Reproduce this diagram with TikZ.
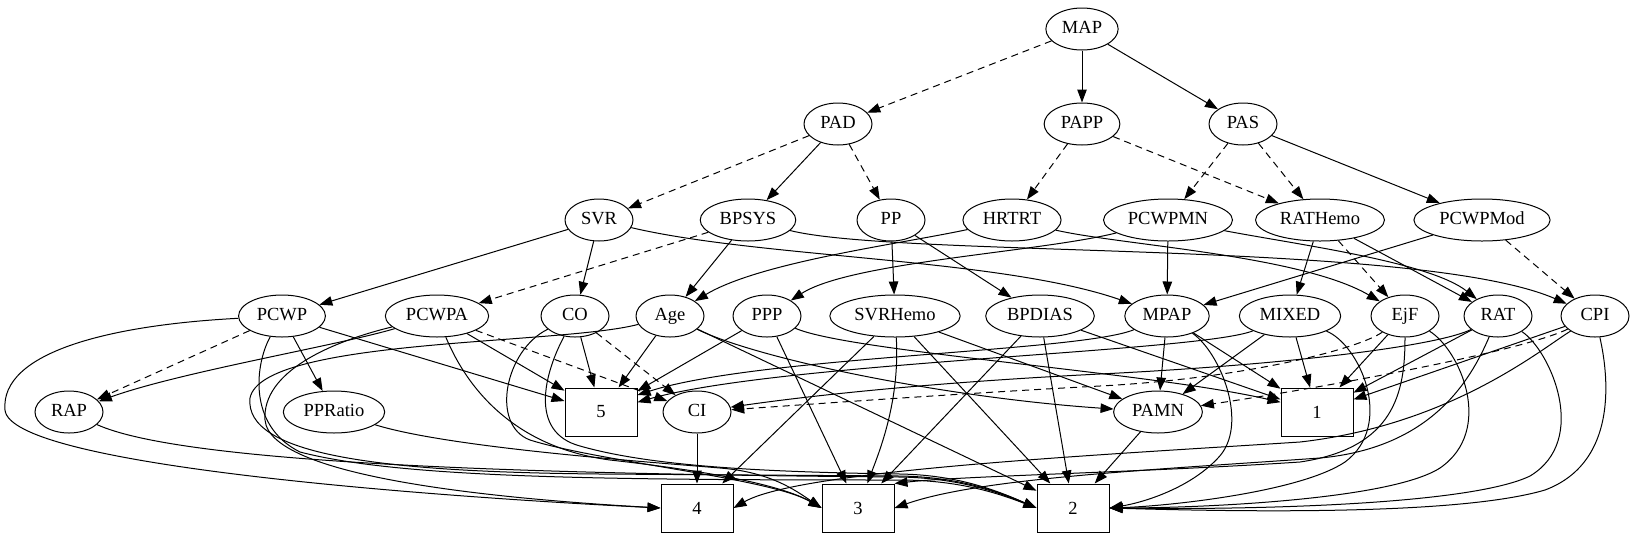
\documentclass[tikz,border=0pt]{standalone}
\usepackage{fontspec}
\setmainfont{Liberation Serif}
\usetikzlibrary{arrows.meta,shapes.geometric}
\tikzset{
  var/.style={ellipse, draw, line width=1pt, minimum width=68pt, minimum height=42pt,
    inner xsep=5.5pt, inner ysep=0pt, text height=12.5pt, text depth=3.5pt,
    font=\fontsize{18.5pt}{20pt}\selectfont},
  cls/.style={draw, line width=1pt, minimum width=72pt, minimum height=48pt,
    font=\fontsize{18.5pt}{20pt}\selectfont},
  link/.style={-{Triangle[length=13pt,width=9.5pt]}, line width=1pt},
  weak/.style={link, dash pattern=on 7pt off 5pt},
}

\begin{document}
\begin{tikzpicture}[x=1pt,y=-1pt]
  \useasboundingbox (0,0) rectangle (1638,539);
  % variables
  \foreach \n/\x/\y in {MAP/1082/29, PAD/838/124, PAPP/1082/124, PAS/1243/124,
      SVR/599/220, BPSYS/748/220, PP/891/220, HRTRT/1012/220, PCWPMN/1168/220,
      RATHemo/1320/220, PCWPMod/1482/220,
      PCWP/282/316, PCWPA/437/316, CO/575/316, Age/670/316, PPP/767/316,
      SVRHemo/895/316, BPDIAS/1040/316, MPAP/1167/316, MIXED/1290/316,
      EjF/1405/316, RAT/1498/316, CPI/1595/316,
      RAP/69/412, PPRatio/334/412, CI/697/412, PAMN/1158/412}
    \node[var] (\n) at (\x,\y) {\n};
  % classes
  \foreach \n/\x/\y in {5/601/412, 1/1317/412, 4/697/508, 3/858/508, 2/1073/508}
    \node[cls] (b\n) at (\x,\y) {\n};
  % straight arcs
  \foreach \a/\b in {MAP/PAPP, MAP/PAS, PAD/BPSYS, PAS/PCWPMod, SVR/PCWP, SVR/CO,
      BPSYS/Age, PP/SVRHemo, PP/BPDIAS, PCWPMN/MPAP, RATHemo/MIXED, RATHemo/RAT,
      PCWPMod/MPAP, PCWP/PPRatio, PCWP/b5, PCWPA/b5, CO/b5, Age/b5, PPP/b5, PPP/b3,
      SVRHemo/b4, SVRHemo/b2, SVRHemo/PAMN, BPDIAS/b3, BPDIAS/b2, BPDIAS/b1,
      MPAP/PAMN, MPAP/b1, MIXED/PAMN, MIXED/b1, EjF/b1, RAT/b1, CPI/b1,
      Age/b2, CI/b4, PAMN/b2}
    \draw[link] (\a) -- (\b);
  \foreach \a/\b in {MAP/PAD, PAD/SVR, PAD/PP, PAPP/HRTRT, PAPP/RATHemo, PAS/PCWPMN,
      PAS/RATHemo, BPSYS/PCWPA, RATHemo/EjF, PCWPMod/CPI, PCWP/RAP, PCWPA/CI, CO/CI}
    \draw[weak] (\a) -- (\b);
  % routed arcs, upper ranks
  \draw[link] (SVR) .. controls (760,258) and (1000,258) .. (MPAP);
  \draw[link] (BPSYS) .. controls (900,258) and (1420,240) .. (CPI);
  \draw[link] (HRTRT) .. controls (900,244) and (760,262) .. (Age);
  \draw[link] (HRTRT) .. controls (1120,245) and (1300,255) .. (EjF);
  \draw[link] (PCWPMN) .. controls (1040,252) and (850,262) .. (PPP);
  \draw[link] (PCWPMN) .. controls (1300,245) and (1430,262) .. (RAT);
  % routed arcs, left side
  \draw[link] (PCWPA) .. controls (340,345) and (180,372) .. (RAP);
  \draw[link] (PCWP) .. controls (110,325) and (0,352) .. (5,410)
    .. controls (10,465) and (420,496) .. (b4.west);
  \draw[link] (PCWPA) .. controls (330,342) and (262,372) .. (265,420)
    .. controls (270,480) and (520,500) .. (b4.west);
  \draw[link] (PCWP) .. controls (256,362) and (246,425) .. (300,452)
    .. controls (400,478) and (600,480) .. (900,480)
    .. controls (960,480) and (1000,494) .. (b2.west);
  \draw[link] (Age) .. controls (560,345) and (262,338) .. (250,398)
    .. controls (244,455) and (380,472) .. (600,474) -- (900,476)
    .. controls (960,477) and (1000,492) .. (b2.west);
  \draw[link] (CO) .. controls (545,372) and (528,432) .. (580,446)
    .. controls (650,466) and (760,472) .. (900,474)
    .. controls (960,475) and (1000,492) .. (b2.west);
  \draw[link] (RAP) .. controls (180,462) and (500,474) .. (900,477)
    .. controls (960,478) and (1000,493) .. (b2.west);
  \draw[link] (PCWPA) .. controls (470,395) and (520,448) .. (610,460)
    .. controls (700,470) and (780,484) .. (b3.west);
  \draw[link] (CO) .. controls (505,350) and (490,425) .. (530,440)
    .. controls (600,462) and (770,478) .. (b3.west);
  \draw[link] (PPRatio) .. controls (450,448) and (650,462) .. (720,468)
    .. controls (770,472) and (795,490) .. (b3.west);
  % routed arcs, middle
  \draw[link] (SVRHemo) .. controls (900,400) and (880,450) .. (b3);
  \draw[link] (Age) .. controls (760,360) and (950,398) .. (PAMN);
  \draw[link] (PPP) .. controls (850,352) and (1150,372) .. (b1.165);
  \draw[link] (MPAP) .. controls (1080,352) and (760,356) .. (b5.25);
  \draw[link] (MIXED) .. controls (1200,352) and (780,362) .. (b5.15);
  % routed arcs, right side
  \draw[link] (MPAP) .. controls (1220,352) and (1250,425) .. (1218,458)
    .. controls (1188,490) and (1140,503) .. (b2.east);
  \draw[link] (MIXED) .. controls (1360,345) and (1395,425) .. (1345,462)
    .. controls (1300,492) and (1170,506) .. (b2.east);
  \draw[link] (EjF) .. controls (1460,350) and (1495,430) .. (1440,468)
    .. controls (1390,500) and (1200,508) .. (b2.east);
  \draw[link] (RAT) .. controls (1550,350) and (1590,440) .. (1530,476)
    .. controls (1470,505) and (1250,510) .. (b2.east);
  \draw[link] (CPI) .. controls (1605,360) and (1625,460) .. (1545,490)
    .. controls (1460,515) and (1250,512) .. (b2.east);
  \draw[link] (EjF) .. controls (1405,392) and (1395,448) .. (1300,462)
    .. controls (1150,472) and (960,476) .. (b3.north east);
  \draw[link] (RAT) .. controls (1470,382) and (1430,448) .. (1320,458)
    .. controls (1150,470) and (980,478) .. (b3.east);
  \draw[link] (CPI) .. controls (1540,350) and (1450,425) .. (1300,442)
    .. controls (1100,455) and (800,470) .. (b4.east);
  \draw[weak] (EjF) .. controls (1360,348) and (1250,378) .. (1100,386)
    .. controls (950,394) and (800,405) .. (CI);
  \draw[link] (RAT) .. controls (1440,345) and (1300,364) .. (1100,374)
    .. controls (900,384) and (780,400) .. (CI);
  \draw[weak] (CPI) .. controls (1520,352) and (1320,388) .. (PAMN);
\end{tikzpicture}
\end{document}
